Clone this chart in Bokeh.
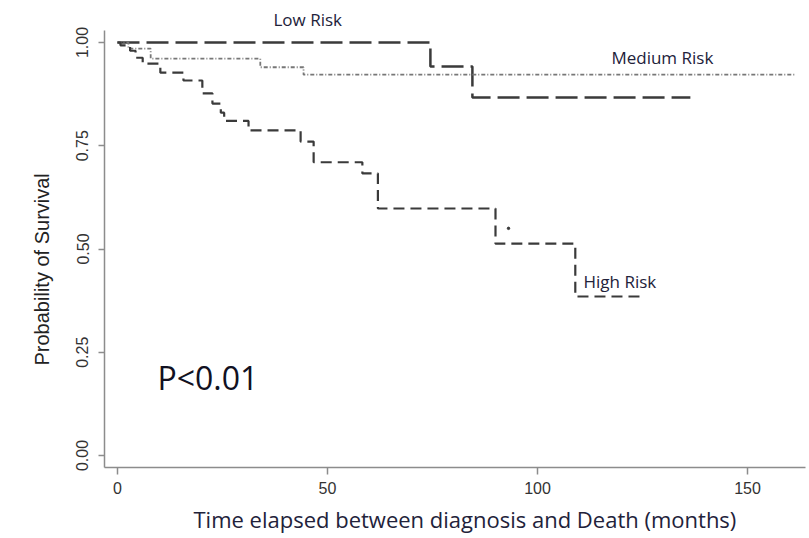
import math
from bokeh.plotting import figure
from bokeh.models import Range1d, Label, FixedTicker, Title
from bokeh.embed import file_html
from bokeh.resources import INLINE

# ---- data ----
low_t = [0, 74.5, 84.5, 136.4]
low_s = [1.0, 0.942, 0.867, 0.867]

med_t = [0, 2.6, 7.9, 34.0, 44.3, 161.5]
med_s = [1.0, 0.985, 0.961, 0.940, 0.922, 0.922]

high_t = [0, 0.7, 3.0, 4.3, 6.0, 10.2, 15.7, 20.2, 22.6, 24.6, 25.4, 31.2,
          43.6, 46.7, 58.3, 62.0, 90.0, 109.0, 125.2]
high_s = [1.0, 0.993, 0.980, 0.963, 0.949, 0.927, 0.908, 0.877, 0.852, 0.830,
          0.810, 0.787, 0.760, 0.710, 0.683, 0.598, 0.513, 0.385, 0.385]

mark_t = [93.1]
mark_s = [0.55]

x_ticks = [0, 50, 100, 150]
y_ticks = [0.0, 0.25, 0.5, 0.75, 1.0]
y_tick_labels = ["0.00", "0.25", "0.50", "0.75", "1.00"]

p = figure(width=809, height=538, output_backend="svg", toolbar_location=None,
           x_range=Range1d(-3.095, 163.81), y_range=Range1d(-0.029, 1.029),
           min_border_left=104, min_border_right=4, min_border_top=30,
           min_border_bottom=71)
p.outline_line_color = None
p.grid.visible = False
p.background_fill_color = "white"
p.border_fill_color = "white"

for ax in (p.xaxis[0], p.yaxis[0]):
    ax.axis_line_color = "#8c8c8c"
    ax.axis_line_width = 1.5
    ax.major_tick_line_color = "#8c8c8c"
    ax.major_tick_line_width = 1.5
    ax.major_tick_in = 0
    ax.minor_tick_line_color = None
    ax.major_label_text_font = "Liberation Sans"
    ax.major_label_text_font_size = "16px"
    ax.major_label_text_color = "#333333"

p.xaxis[0].ticker = FixedTicker(ticks=x_ticks)
p.xaxis[0].major_tick_out = 7
p.xaxis[0].major_label_standoff = 7

p.yaxis[0].ticker = FixedTicker(ticks=y_ticks)
p.yaxis[0].major_label_overrides = {t: l for t, l in zip(y_ticks, y_tick_labels)}
p.yaxis[0].major_tick_out = 6
p.yaxis[0].major_label_orientation = "parallel"
p.yaxis[0].major_label_standoff = 10

# curves
p.step(low_t, low_s, mode="after", line_color="#3a3a3a", line_width=2.5,
       line_dash="22 7")
p.step(med_t, med_s, mode="after", line_color="#777777", line_width=1.8,
       line_dash="4 2 1 2")
p.step(high_t, high_s, mode="after", line_color="#3a3a3a", line_width=2.2,
       line_dash="11 6")
p.scatter(mark_t, mark_s, size=2.5, color="#3a3a3a")

ann_font = "Open Sans"
ann_color = "#22223a"

p.add_layout(Title(text="Low Risk", align="left", offset=169, standoff=0,
                   text_font=ann_font, text_font_size="17px",
                   text_font_style="normal", text_color=ann_color), "above")
p.add_layout(Label(x=117.6, y=0.964, text="Medium Risk", text_align="left",
                   text_baseline="middle", text_font=ann_font,
                   text_font_size="17px", text_color=ann_color))
p.add_layout(Label(x=110.95, y=0.421, text="High Risk", text_align="left",
                   text_baseline="middle", text_font=ann_font,
                   text_font_size="17px", text_color=ann_color))
p.add_layout(Label(x=9.5, y=0.189, text="P<0.01", text_align="left",
                   text_baseline="middle", text_font=ann_font,
                   text_font_size="32px", text_color="#111122"))
p.add_layout(Title(text="Time elapsed between diagnosis and Death (months)",
                   align="left", offset=89, text_font=ann_font,
                   text_font_size="22px", text_font_style="normal",
                   text_color=ann_color), "below")
p.add_layout(Title(text="Probability of Survival", align="left", offset=102,
                   standoff=42, text_font="Liberation Sans",
                   text_font_size="20px", text_font_style="normal",
                   text_color="#222222"), "left")

open("out.html", "w").write(file_html(p, INLINE))
